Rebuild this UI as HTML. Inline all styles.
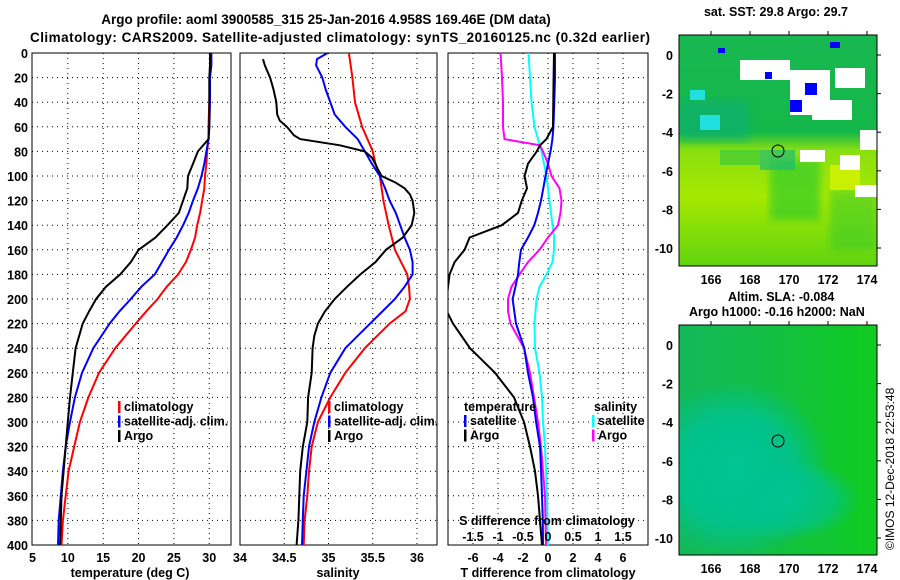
<!DOCTYPE html>
<html><head><meta charset="utf-8"><style>
body{margin:0;background:#fff;}
svg{display:block;font-family:"Liberation Sans",Arial,sans-serif;font-weight:bold;}
text{font-size:12.5px;fill:#000;}
</style></head><body>
<svg id="s" width="900" height="580" viewBox="0 0 900 580">
<defs>
<clipPath id="c1"><rect x="32" y="53" width="199" height="493"/></clipPath>
<clipPath id="c2"><rect x="240" y="53" width="197" height="493"/></clipPath>
<clipPath id="c3"><rect x="448" y="53" width="200" height="493"/></clipPath>
<clipPath id="cm1"><rect x="679" y="35" width="198" height="231"/></clipPath>
<clipPath id="cm2"><rect x="679" y="325" width="198" height="230"/></clipPath>
<linearGradient id="gt" x1="0" y1="0" x2="0" y2="1">
<stop offset="0" stop-color="#18b850"/><stop offset="0.42" stop-color="#14b84a"/><stop offset="0.5" stop-color="#8ae010"/><stop offset="0.7" stop-color="#a6e800"/><stop offset="1" stop-color="#60d410"/></linearGradient>
<linearGradient id="gb" x1="0" y1="0" x2="1" y2="0">
<stop offset="0" stop-color="#14b85a"/><stop offset="0.5" stop-color="#12c040"/><stop offset="1" stop-color="#10cc20"/></linearGradient>
<radialGradient id="gteal" cx="0.5" cy="0.5" r="0.5">
<stop offset="0" stop-color="#00c494"/><stop offset="0.6" stop-color="#00c290" stop-opacity="0.9"/><stop offset="1" stop-color="#00c290" stop-opacity="0"/></radialGradient>
<filter id="blur"><feGaussianBlur stdDeviation="4"/></filter>
</defs>
<text x="326" y="24" text-anchor="middle" style="font-size:13.5px">Argo profile: aoml 3900585_315 25-Jan-2016 4.958S 169.46E (DM data)</text>
<text x="340" y="42" text-anchor="middle" style="font-size:13.5px" textLength="620">Climatology: CARS2009. Satellite-adjusted climatology: synTS_20160125.nc (0.32d earlier)</text>
<g id="g"></g>
<g>
<text x="776" y="16" text-anchor="middle">sat. SST: 29.8 Argo: 29.7</text>
<rect x="679" y="35" width="198" height="231" fill="url(#gt)"/>
<g clip-path="url(#cm1)">
<rect x="679" y="100" width="70" height="40" fill="#10b070" opacity="0.7" filter="url(#blur)"/>
<rect x="700" y="115" width="20" height="15" fill="#20e0e0"/>
<rect x="690" y="90" width="15" height="10" fill="#20e0e0"/>
<rect x="720" y="150" width="40" height="15" fill="#30c840" opacity="0.6"/>
<rect x="770" y="160" width="50" height="60" fill="#20c830" opacity="0.6" filter="url(#blur)"/>
<rect x="830" y="190" width="47" height="60" fill="#30c830" opacity="0.5" filter="url(#blur)"/>
<rect x="760" y="150" width="35" height="20" fill="#10b880" opacity="0.6"/>
<rect x="830" y="165" width="30" height="25" fill="#c8f000"/>
<rect x="740" y="60" width="50" height="20" fill="#ffffff"/>
<rect x="790" y="70" width="40" height="45" fill="#ffffff"/>
<rect x="835" y="68" width="30" height="20" fill="#ffffff"/>
<rect x="812" y="100" width="40" height="20" fill="#ffffff"/>
<rect x="860" y="130" width="17" height="20" fill="#ffffff"/>
<rect x="800" y="150" width="25" height="12" fill="#ffffff"/>
<rect x="840" y="155" width="20" height="15" fill="#ffffff"/>
<rect x="855" y="185" width="22" height="12" fill="#ffffff"/>
<rect x="805" y="83" width="12" height="12" fill="#0000ff"/>
<rect x="790" y="100" width="12" height="12" fill="#0000ff"/>
<rect x="765" y="72" width="7" height="7" fill="#0000ff"/>
<rect x="830" y="42" width="10" height="6" fill="#0000ff"/>
<rect x="718" y="48" width="7" height="5" fill="#0000ff"/>
</g>
<rect x="679" y="35" width="198" height="231" fill="none" stroke="#000"/>
<circle cx="778" cy="151" r="6" fill="none" stroke="#000"/>
</g>
<g>
<text x="728" y="301">Altim. SLA: -0.084</text>
<text x="689" y="316">Argo h1000: -0.16 h2000: NaN</text>
<rect x="679" y="325" width="198" height="230" fill="url(#gb)"/>
<g clip-path="url(#cm2)">
<ellipse cx="735" cy="470" rx="95" ry="90" fill="url(#gteal)"/>
<ellipse cx="790" cy="500" rx="70" ry="40" fill="url(#gteal)" opacity="0.8"/>
</g>
<rect x="679" y="325" width="198" height="230" fill="none" stroke="#000"/>
<circle cx="778" cy="441" r="6" fill="none" stroke="#000"/>
</g>
<text transform="translate(894,550) rotate(-90)" style="font-size:12px;font-weight:normal">©IMOS 12-Dec-2018 22:53:48</text>
</svg>
<script>
const depthT=[0,10,20,40,60,70,80,90,100,110,120,130,140,150,160,170,180,190,200,210,220,240,260,280,300,320,340,360,380,400];
const tClim=[30.1,30.1,30.1,30.0,29.9,29.9,29.7,29.6,29.4,29.3,29.0,28.7,28.3,28.0,27.4,26.7,25.6,24.0,22.7,21.1,19.6,16.7,14.4,12.9,11.7,10.9,10.1,9.7,9.3,9.1];
const tSat=[30.3,30.3,30.1,30.1,30.0,29.9,29.6,29.3,28.9,28.4,27.7,27.1,26.3,25.4,24.3,23.3,22.3,20.4,18.9,17.3,15.9,13.6,12.0,11.0,10.3,9.7,9.3,9.0,8.7,8.6];
const tArgo=[30.1,30.1,30.0,30.0,30.0,29.9,28.4,27.7,27.0,26.9,26.3,25.7,24.1,22.4,20.0,18.9,17.4,15.4,14.0,13.0,12.1,11.1,10.7,10.3,10.0,9.7,9.4,9.1,9.0,8.9];
const depthSC=[0,20,40,60,80,90,100,120,140,160,180,190,200,210,220,240,260,280,300,320,340,360,380,400];
const sClim=[35.23,35.27,35.30,35.38,35.50,35.53,35.58,35.62,35.68,35.75,35.89,35.91,35.92,35.87,35.69,35.41,35.19,35.02,34.88,34.81,34.78,34.76,34.73,34.72];
const depthSS=[0,5,10,20,30,40,50,60,70,80,90,100,110,120,130,140,150,160,170,180,190,200,220,240,260,280,300,320,340,360,380,400];
const sSat=[34.99,34.87,34.86,34.93,34.97,35.02,35.07,35.19,35.33,35.41,35.49,35.58,35.64,35.69,35.76,35.81,35.86,35.92,35.95,35.95,35.86,35.75,35.47,35.19,35.02,34.92,34.84,34.78,34.75,34.72,34.71,34.70];
const depthSA=[5,10,20,30,40,50,55,60,67,70,75,80,85,90,95,100,105,110,115,120,130,140,150,160,170,180,190,200,210,220,230,240,260,280,300,320,340,360,380,400];
const sArgo=[34.26,34.28,34.34,34.38,34.41,34.42,34.45,34.53,34.61,34.68,35.13,35.41,35.49,35.53,35.56,35.60,35.75,35.86,35.92,35.95,35.97,35.94,35.84,35.65,35.53,35.36,35.21,35.07,34.96,34.88,34.84,34.82,34.81,34.77,34.76,34.71,34.68,34.67,34.66,34.64];
const depthD=[0,20,40,60,70,75,80,90,100,110,120,130,140,150,160,170,180,190,200,210,220,240,260,280,300,320,340,360,380,400];
const dTArgo=[0.48,0.45,0.42,0.40,-0.13,-0.64,-0.9,-1.6,-1.87,-1.68,-2.1,-2.4,-3.7,-6.27,-6.67,-7.47,-7.87,-8.0,-8.1,-8.1,-7.6,-6.24,-4.24,-2.72,-1.92,-1.44,-1.04,-0.8,-0.64,-0.48];
const dTSat=[0.56,0.56,0.5,0.43,0.35,0.28,0.2,0.0,-0.2,-0.38,-0.56,-0.8,-1.1,-1.6,-2.16,-2.3,-2.4,-2.6,-2.83,-2.7,-2.56,-1.9,-1.6,-1.2,-0.95,-0.64,-0.55,-0.48,-0.42,-0.4];
const dSSat=[-0.39,-0.36,-0.33,-0.27,-0.2,-0.16,-0.13,-0.08,-0.03,0.0,0.03,0.06,0.09,0.12,0.12,0.09,-0.03,-0.17,-0.23,-0.25,-0.27,-0.26,-0.17,-0.12,-0.1,-0.06,-0.04,-0.02,-0.01,0.0];
const dSArgo=[-0.95,-0.92,-0.9,-0.9,-0.87,-0.16,-0.1,0.0,0.07,0.23,0.27,0.25,0.2,0.0,-0.17,-0.4,-0.57,-0.73,-0.8,-0.8,-0.75,-0.48,-0.36,-0.28,-0.2,-0.14,-0.1,-0.06,-0.05,-0.04];
const depthTicks=[0,20,40,60,80,100,120,140,160,180,200,220,240,260,280,300,320,340,360,380,400];
const tTicks=[5,10,15,20,25,30];
const sTicks=[34,34.5,35,35.5,36];
const dTTicks=[-6,-4,-2,0,2,4,6];
const dSTicks=["-1.5","-1","-0.5","0","0.5","1","1.5"];
const latTicks=[0,-2,-4,-6,-8,-10];
const lonTicks=[166,168,170,172,174];

const NS='http://www.w3.org/2000/svg';
const G=document.getElementById('g');
function el(t,a,p){const e=document.createElementNS(NS,t);for(const k in a)e.setAttribute(k,a[k]);(p||G).appendChild(e);return e;}
const yD=d=>53+d*1.23;
const xT=v=>32.5+(v-5)*7.07;
const xS=v=>240+(v-34)*88.5;
const xDT=v=>548+v*12.5;
const xDS=v=>548+v*50;

function panel(x0,x1,name,xs,xf){
  const g=el('g',{});
  
  
  depthTicks.forEach(d=>{if(d>0&&d<400)el('line',{x1:x0,x2:x1,y1:yD(d),y2:yD(d),stroke:'#000','stroke-dasharray':'1 4'},g);});
  xs.forEach(v=>{const x=xf(v);if(x>x0+2&&x<x1-2)el('line',{x1:x,x2:x,y1:53,y2:545,stroke:'#000','stroke-dasharray':'1 4'},g);});
  el('rect',{x:x0,y:53,width:x1-x0,height:492,fill:'none',stroke:'#000'},g);
  return g;
}
function line(g,depths,vals,xf,color,clip,name,w){
  const p=el('polyline',{points:depths.map((d,i)=>xf(vals[i]).toFixed(1)+','+yD(d).toFixed(1)).join(' '),fill:'none',stroke:color,'stroke-width':w||2,'clip-path':'url(#'+clip+')'},g);
  
  
}
function txt(g,x,y,s,anchor,name,style){
  const t=el('text',{x:x,y:y,'text-anchor':anchor||'middle'},g);
  if(style)t.setAttribute('style',style);
  t.textContent=s;
  
  
  return t;
}
function legend(g,x,y,items,name){
  items.forEach((it,i)=>{
    el('rect',{x:x,y:y+i*14.5-10,width:2.5,height:12,fill:it[1]},g);
    txt(g,x+6,y+i*14.5,it[0],'start',name+'-'+it[2]);
  });
}
depthTicks.forEach(d=>txt(G,28,yD(d)+5,String(d),'end','depth-tick-'+d));

const p1=panel(32,231,'temperature-panel',tTicks,xT);
line(p1,depthT,tClim,xT,'#ff0000','c1','temp-climatology-line');
line(p1,depthT,tSat,xT,'#0000ff','c1','temp-satellite-line');
line(p1,depthT,tArgo,xT,'#000000','c1','temp-argo-line');
tTicks.forEach(v=>txt(p1,xT(v),562,String(v),'middle','temp-tick-'+v));
txt(p1,130,577,'temperature (deg C)','middle','temperature-axis-title');
legend(p1,118,411,[['climatology','#ff0000','climatology'],['satellite-adj. clim.','#0000ff','satellite'],['Argo','#000','argo']],'temp-legend');

const p2=panel(240,437,'salinity-panel',sTicks,xS);
line(p2,depthSC,sClim,xS,'#ff0000','c2','sal-climatology-line');
line(p2,depthSS,sSat,xS,'#0000ff','c2','sal-satellite-line');
line(p2,depthSA,sArgo,xS,'#000000','c2','sal-argo-line');
sTicks.forEach(v=>txt(p2,xS(v),562,String(v),'middle','sal-tick-'+v));
txt(p2,338,577,'salinity','middle','salinity-axis-title');
legend(p2,328,411,[['climatology','#ff0000','climatology'],['satellite-adj. clim.','#0000ff','satellite'],['Argo','#000','argo']],'sal-legend');

const p3=panel(448,648,'difference-panel',dTTicks,xDT);
line(p3,depthD,dSSat,xDS,'#00ffff','c3','sdiff-satellite-line');
line(p3,depthD,dSArgo,xDS,'#ff00ff','c3','sdiff-argo-line');
line(p3,depthD,dTSat,xDT,'#0000ff','c3','tdiff-satellite-line');
line(p3,depthD,dTArgo,xDT,'#000000','c3','tdiff-argo-line');
dTTicks.forEach(v=>txt(p3,xDT(v),562,String(v),'middle','tdiff-tick-'+v));
dSTicks.forEach(v=>txt(p3,xDS(+v),541,v,'middle','sdiff-tick-'+v));
txt(p3,547,525,'S difference from climatology','middle','sdiff-axis-title');
txt(p3,548,577,'T difference from climatology','middle','tdiff-axis-title');
txt(p3,464,411,'temperature','start','temp-diff-legend-title');
legend(p3,464,425,[['satellite','#0000ff','satellite'],['Argo','#000','argo']],'tdiff-legend');
txt(p3,594,411,'salinity','start','sal-diff-legend-title');
legend(p3,592,425,[['satellite','#00ffff','satellite'],['Argo','#ff00ff','argo']],'sdiff-legend');

const xLon=v=>711+(v-166)*19.5;
function mapAxes(y0,lat0,name,labY){
  const g=el('g',{});
  
  
  latTicks.forEach(v=>{const y=lat0-v*19.3;
    el('line',{x1:679,x2:683,y1:y,y2:y,stroke:'#000'},g);
    el('line',{x1:877,x2:881,y1:y,y2:y,stroke:'#000'},g);
    txt(g,673,y+5,String(v),'end',name+'-lat-'+v);});
  lonTicks.forEach(v=>{const x=xLon(v);
    el('line',{x1:x,x2:x,y1:y0-4,y2:y0,stroke:'#000'},g);
    txt(g,x,labY,String(v),'middle',name+'-lon-'+v);});
}
mapAxes(35,55,'sst-map-axes',284);
mapAxes(325,345,'sla-map-axes',573);
</script>
</body></html>
